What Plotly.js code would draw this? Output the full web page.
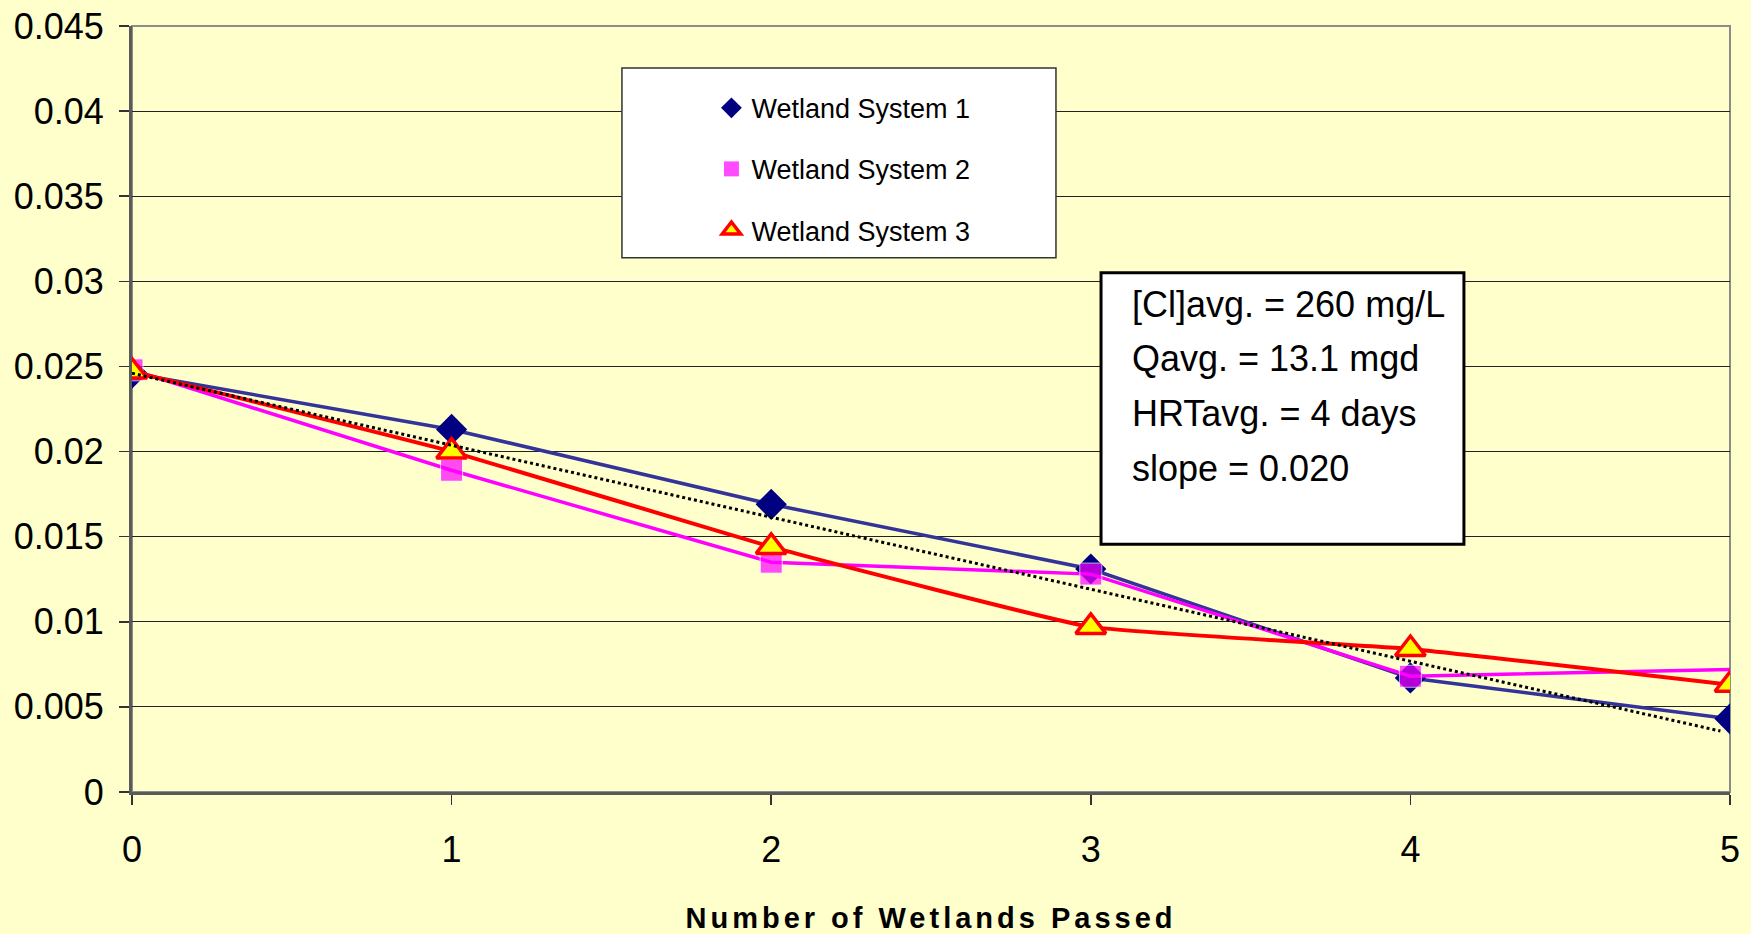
<!DOCTYPE html>
<html>
<head>
<meta charset="utf-8">
<script src="https://cdn.plot.ly/plotly-3.0.1.min.js"></script>
<style>html,body{margin:0;padding:0;background:#FFFFCC;}</style>
</head>
<body>
<div id="chart" style="width:1751px;height:934px;"></div>
<script>
// ---- data ----
const wetlandsPassed = [0, 1, 2, 3, 4, 5];
const system1 = [0.0246, 0.0213, 0.0169, 0.0131, 0.0067, 0.0043];
const system2 = [0.0248, 0.0189, 0.0135, 0.0128, 0.0068, 0.0072];
const system3 = [0.0247, 0.0200, 0.0144, 0.0097, 0.0084, 0.0063];
const trendX = [0, 4.97];
const trendY = [0.0246, 0.00358];
const seriesNames = ['Wetland System 1', 'Wetland System 2', 'Wetland System 3'];
const yTickVals = [0, 0.005, 0.01, 0.015, 0.02, 0.025, 0.03, 0.035, 0.04, 0.045];
const yTickText = ['0', '0.005', '0.01', '0.015', '0.02', '0.025', '0.03', '0.035', '0.04', '0.045'];
const xTickText = ['0', '1', '2', '3', '4', '5'];
const infoLines = ['[Cl]avg. = 260 mg/L', 'Qavg. = 13.1 mgd', 'HRTavg. = 4 days', 'slope = 0.020'];
const xTitle = 'Number of Wetlands Passed';

const FONT = 'Liberation Sans, Arial, sans-serif';

const styles = [
  {line: {color: '#333399', width: 3.5},
   marker: {symbol: 'diamond', size: 24, color: '#000080'}},
  {line: {color: '#FF00FF', width: 3.5},
   marker: {symbol: 'square', size: [22, 22, 22, 22, 22, 0], color: '#FF00FF'}},
  {line: {color: '#FF0000', width: 4, shape: 'spline', smoothing: 0.35},
   marker: {symbol: 'triangle-up', size: 26, color: '#FFFF00', line: {color: '#FF0000', width: 3.5}}}
];
const seriesValues = [system1, system2, system3];

const traces = [];
seriesValues.forEach((vals, i) => {
  traces.push({
    x: wetlandsPassed, y: vals, type: 'scatter', mode: 'lines', showlegend: false,
    legendgroup: 'g' + i, hoverinfo: 'skip', line: styles[i].line
  });
  traces.push({
    x: wetlandsPassed, y: vals, name: seriesNames[i], type: 'scatter', mode: 'markers',
    legendgroup: 'g' + i, marker: styles[i].marker
  });
});
traces.push({
  x: trendX, y: trendY, type: 'scatter', mode: 'lines', showlegend: false, hoverinfo: 'skip',
  line: {color: '#000000', width: 3, dash: 'dot'}
});

const annotations = infoLines.map((t, i) => ({
  text: t, xref: 'paper', yref: 'paper', x: 0.6245, y: [0.6362, 0.5658, 0.4941, 0.4224][i],
  xanchor: 'left', yanchor: 'middle', showarrow: false,
  font: {family: FONT, size: 36, color: '#000000'}
}));

const layout = {
  width: 1751, height: 934,
  margin: {l: 132, r: 21, t: 26, b: 142},
  paper_bgcolor: '#FFFFCC', plot_bgcolor: '#FFFFCC',
  showlegend: true,
  legend: {
    x: 0.3626, y: 0.9246, xanchor: 'left', yanchor: 'top',
    bgcolor: 'rgba(0,0,0,0)', borderwidth: 0,
    tracegroupgap: 23,
    font: {family: FONT, size: 27, color: '#000000'}
  },
  xaxis: {
    range: [0, 5], tickvals: wetlandsPassed, ticktext: xTickText,
    showgrid: false, zeroline: false,
    showline: true, linecolor: '#5a5a5a', linewidth: 3,
    ticks: 'outside', ticklen: 10, tickwidth: 1.5, tickcolor: '#333333',
    ticklabelstandoff: 14,
    tickfont: {family: FONT, size: 36, color: '#000000'},
    title: {text: xTitle, standoff: 42, font: {family: FONT, size: 29, weight: 'bold', color: '#000000'}},
    automargin: false
  },
  yaxis: {
    range: [0, 0.045], tickvals: yTickVals, ticktext: yTickText,
    showgrid: true, gridcolor: '#222222', gridwidth: 1, zeroline: false,
    showline: true, linecolor: '#5a5a5a', linewidth: 3,
    ticks: 'outside', ticklen: 10, tickwidth: 1.5, tickcolor: '#333333',
    ticklabelstandoff: 8,
    tickfont: {family: FONT, size: 36, color: '#000000'},
    automargin: false
  },
  shapes: [
    {type: 'rect', xref: 'paper', yref: 'paper', x0: 0, x1: 1, y0: 0, y1: 1,
     line: {color: '#8c8c8c', width: 2}, layer: 'below'},
    {type: 'rect', xref: 'paper', yref: 'paper', x0: 0.3066, x1: 0.5782, y0: 0.6975, y1: 0.9452,
     fillcolor: '#FFFFFF', line: {color: '#333333', width: 1.5}, layer: 'above'},
    {type: 'rect', xref: 'paper', yref: 'paper', x0: 0.6064, x1: 0.8335, y0: 0.3233, y1: 0.678,
     fillcolor: '#FFFFFF', line: {color: '#000000', width: 3}, layer: 'above'}
  ],
  annotations: annotations
};

Plotly.newPlot('chart', traces, layout, {displayModeBar: false, staticPlot: true}).then(() => {
  const t = document.querySelector('.xtitle');
  if (t) t.style.letterSpacing = '4px';
});
</script>
</body>
</html>
